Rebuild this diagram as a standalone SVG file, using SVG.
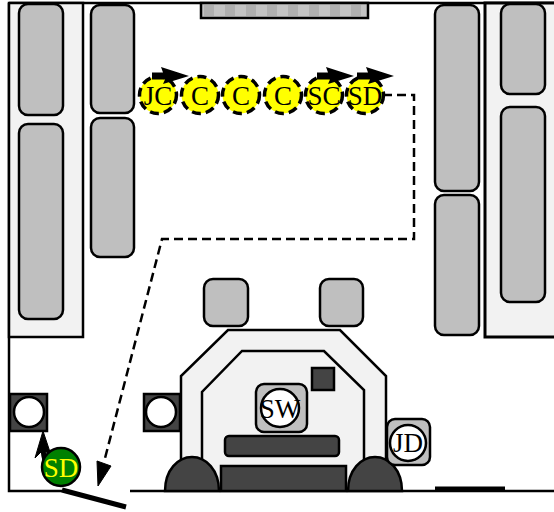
<svg xmlns="http://www.w3.org/2000/svg" width="554" height="512" viewBox="0 0 554 512">
<style>
.seat{fill:#bfbfbf;stroke:#000;stroke-width:2.5}
.panel{fill:#f2f2f2;stroke:#000;stroke-width:2.5}
.dark{fill:#444;stroke:#000;stroke-width:2.5}
.wall{fill:none;stroke:#000;stroke-width:2.5}
.person{fill:#ff0;stroke:#000;stroke-width:3.5;stroke-dasharray:9 5}
.white{fill:#fff;stroke:#000;stroke-width:2.5}
text{font-family:"Liberation Serif","Times New Roman",serif;font-size:27px;text-anchor:middle;fill:#000}
.path{fill:none;stroke:#000;stroke-width:2.5;stroke-dasharray:9 5}
</style>
<defs>
<path id="walk" d="M0 -3.500H11L9 -9L37 0L11 8L13 3.500H0Z" fill="#000"/>
</defs>
<rect width="554" height="512" fill="#fff"/>
<g id="room">
<path class="wall" d="M9 3H554M9 3V491H62M130 491H554"/>
<rect class="panel" x="9" y="3" width="74" height="334"/>
<rect class="panel" x="485" y="3" width="72" height="334" style="stroke-width:3"/>
<rect x="201" y="3" width="167" height="15" fill="#c4c4c4" stroke="#000" stroke-width="2.500"/>
<path d="M204 5h10v11h-10zM225 5h10v11h-10zM246 5h10v11h-10zM267 5h10v11h-10zM288 5h10v11h-10zM309 5h10v11h-10zM330 5h10v11h-10zM351 5h10v11h-10z" fill="#b0b0b0"/>
<path d="M62 490L126 507" stroke="#000" stroke-width="5" fill="none"/>
<path d="M435 489H505" stroke="#000" stroke-width="5" fill="none"/>
</g>
<g id="seats">
<rect class="seat" x="19" y="4" width="44" height="111" rx="9"/>
<rect class="seat" x="19" y="124" width="44" height="195" rx="9"/>
<rect class="seat" x="91" y="5" width="43" height="108" rx="9"/>
<rect class="seat" x="91" y="118" width="43" height="139" rx="9"/>
<rect class="seat" x="435" y="5" width="44" height="186" rx="9"/>
<rect class="seat" x="435" y="195" width="44" height="140" rx="9"/>
<rect class="seat" x="501" y="4" width="44" height="90" rx="9"/>
<rect class="seat" x="501" y="107" width="44" height="195" rx="9"/>
<rect class="seat" x="204" y="279" width="44" height="47" rx="9"/>
<rect class="seat" x="320" y="279" width="43" height="47" rx="9"/>
</g>
<g id="booth">
<path class="panel" d="M181 490V376L228 330H340L386 376V490Z"/>
<path class="panel" d="M202 490V392L242 351H324L364 390V490Z"/>
<rect class="dark" x="312" y="368" width="22" height="22"/>
<rect class="dark" x="225" y="436" width="114" height="20" rx="4"/>
<rect class="dark" x="221" y="466" width="125" height="25"/>
<path class="dark" d="M165 491C165 470 178 457 192 457C206 457 219 470 219 491Z"/>
<path class="dark" d="M348 491C348 470 361 457 375 457C389 457 402 470 402 491Z"/>
</g>
<g id="node-sw">
<rect class="seat" x="256" y="384" width="51" height="48" rx="8"/>
<circle class="white" cx="280" cy="408" r="19"/>
<text x="280" y="418">SW</text>
</g>
<g id="node-jd">
<rect class="seat" x="387" y="419" width="43" height="46" rx="8"/>
<circle class="white" cx="408" cy="443" r="18"/>
<text x="408" y="452">JD</text>
</g>
<g id="stand-left">
<rect class="dark" x="10" y="394" width="37" height="37"/>
<circle class="white" cx="29" cy="412" r="15"/>
</g>
<g id="stand-right">
<rect class="dark" x="144" y="394" width="36" height="37"/>
<circle class="white" cx="161" cy="412" r="15"/>
</g>
<g id="connectors">
<path class="path" d="M383 95H414V239H162L104 462"/>
<path d="M98 486L97 461L111 466Z" fill="#000" stroke="#000"/>
<path d="M60 470C46 470 43 460 43 445" fill="none" stroke="#000" stroke-width="5"/>
<path d="M43 431L51 455L43 450L35 458Z" fill="#000" stroke="#000"/>
</g>
<g id="node-jc"><circle class="person" cx="158" cy="95" r="18.500"/><text x="158" y="105">JC</text><use href="#walk" x="152" y="76"/></g>
<g id="node-c1"><circle class="person" cx="200" cy="95" r="18.500"/><text x="200" y="105">C</text></g>
<g id="node-c2"><circle class="person" cx="241" cy="95" r="18.500"/><text x="241" y="105">C</text></g>
<g id="node-c3"><circle class="person" cx="283" cy="95" r="18.500"/><text x="283" y="105">C</text></g>
<g id="node-sc"><circle class="person" cx="324" cy="95" r="18.500"/><text x="324" y="105">SC</text><use href="#walk" x="317" y="76"/></g>
<g id="node-sd"><circle class="person" cx="365" cy="95" r="18.500"/><text x="365" y="105">SD</text><use href="#walk" x="357" y="76"/></g>
<g id="node-sd2"><circle cx="61" cy="467" r="19" fill="#008000" stroke="#000" stroke-width="2.500"/><text x="61" y="477" style="fill:#ff0">SD</text></g>
</svg>
